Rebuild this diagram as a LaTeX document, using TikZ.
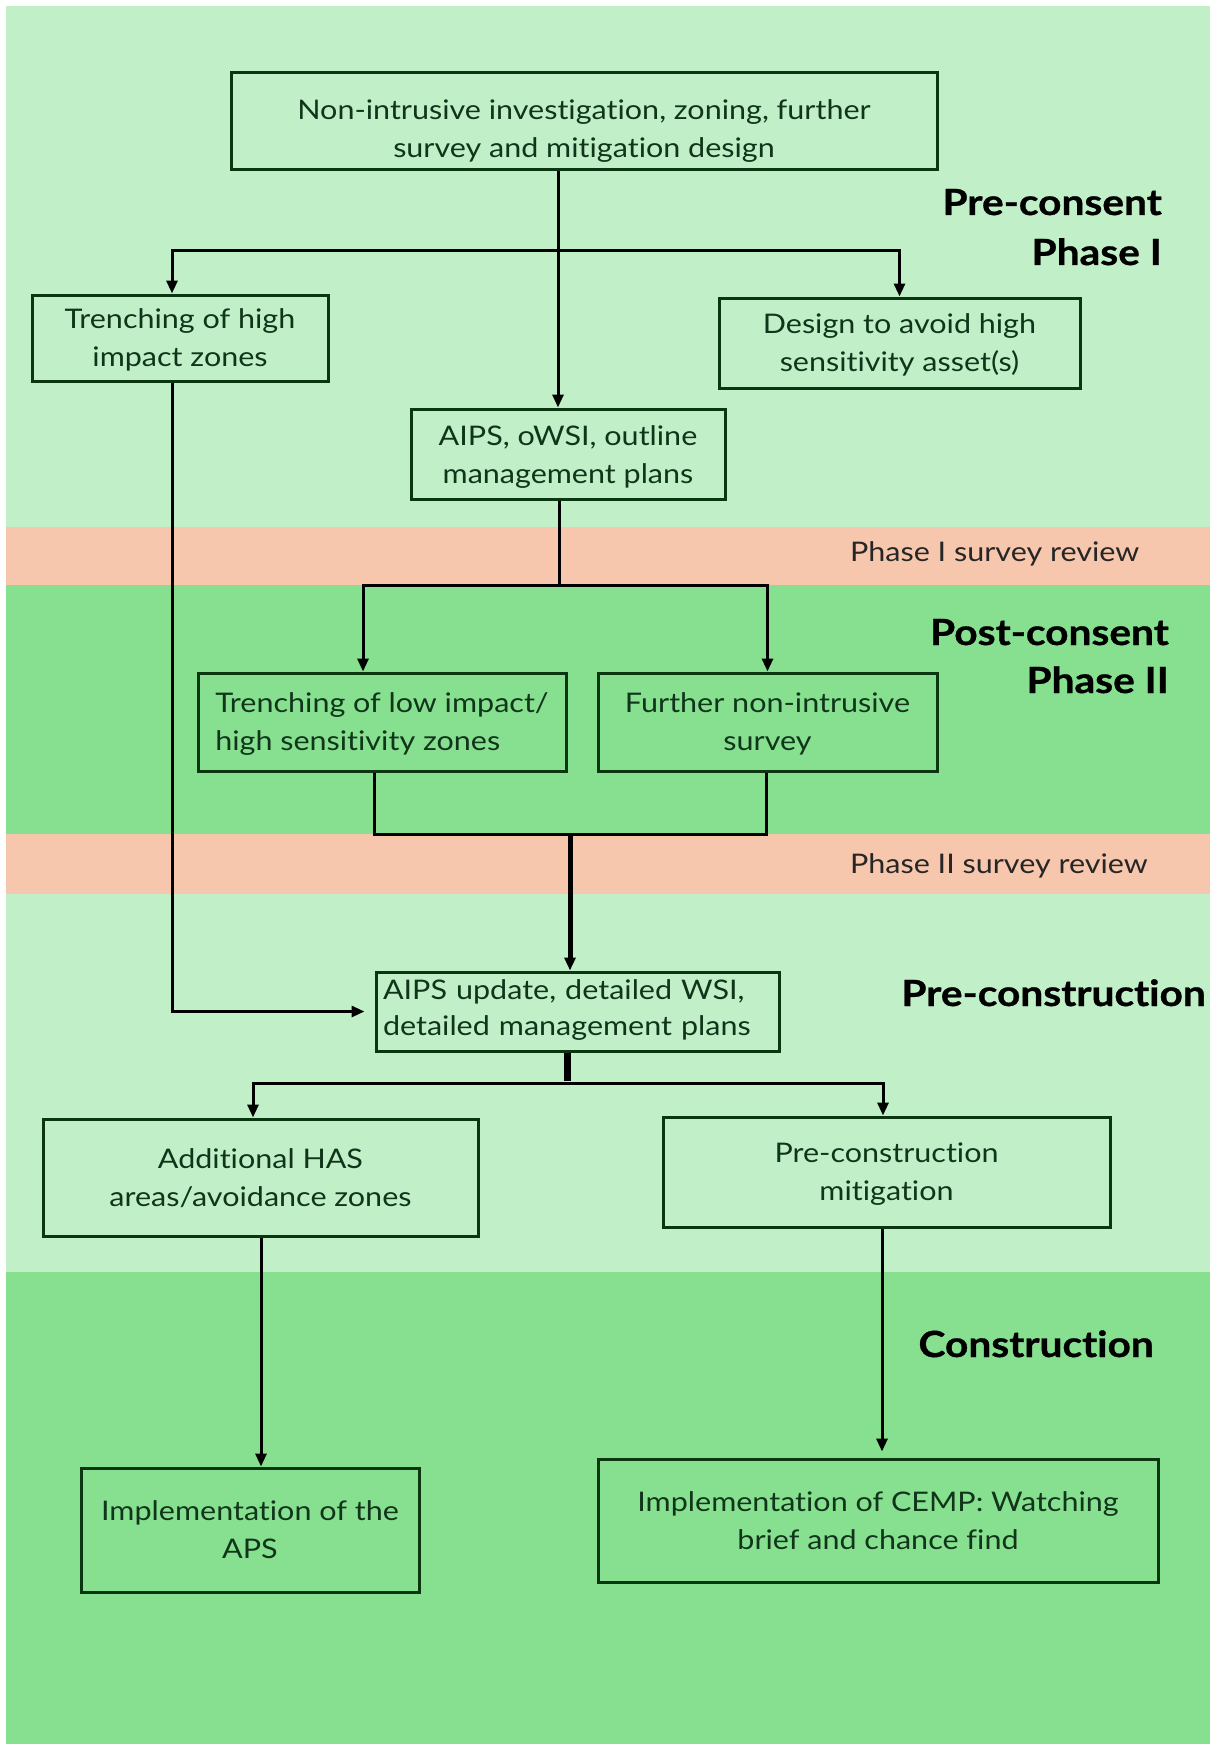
\documentclass[tikz,border=0pt]{standalone}
\usepackage{fontspec}
\setmainfont{Lato}[FakeStretch=1.13, Ligatures={NoCommon}]
\newfontfamily\headfont{Lato}[FakeStretch=1.13, FakeBold=0.8, Ligatures={NoCommon}]
\usetikzlibrary{arrows.meta}
\definecolor{lightg}{HTML}{C1F0C8}
\definecolor{medg}{HTML}{86E090}
\definecolor{salm}{HTML}{F6C6AD}
\definecolor{boxc}{HTML}{0C3512}
\definecolor{txtc}{HTML}{10351A}
\newcommand{\topr}[1]{\rule{0pt}{#1}}
\newcommand{\botr}[1]{\rule[-#1]{0pt}{1pt}}
\begin{document}
\begin{tikzpicture}[x=1pt,y=-1pt,
  box/.style={draw=boxc, line width=3pt, text=txtc, font=\fontsize{27pt}{38pt}\selectfont, align=center, inner sep=0pt},
  tightbox/.style={box, font=\fontsize{27pt}{36pt}\selectfont},
  conn/.style={draw=black, line width=3pt},
  arr/.style={conn, -{Triangle[length=13pt,width=11pt]}},
  head/.style={font=\fontsize{36pt}{42pt}\selectfont\headfont\bfseries, text=black, inner sep=0pt, anchor=base east},
  rev/.style={font=\fontsize{27pt}{32pt}\selectfont, text=black!85, inner sep=0pt, anchor=base west}]
\useasboundingbox (0,0) rectangle (1210,1744);
% background bands
\fill[white] (0,0) rectangle (1210,1744);
\fill[lightg] (6,6) rectangle (1210,527);
\fill[salm] (6,527) rectangle (1210,585);
\fill[medg] (6,585) rectangle (1210,834);
\fill[salm] (6,834) rectangle (1210,894);
\fill[lightg] (6,894) rectangle (1210,1272);
\fill[medg] (6,1272) rectangle (1210,1744);

% boxes
\node[box, minimum width=706pt, minimum height=97pt] (top) at (584,121.5)
  {\topr{45pt}Non-intrusive investigation, zoning, further\\survey and mitigation design\botr{10pt}};
\node[box, minimum width=296pt, minimum height=86pt] (trhigh) at (180,338)
  {\topr{28pt}Trenching of high\\impact zones\botr{10pt}};
\node[box, minimum width=361pt, minimum height=90pt] (design) at (899.5,343)
  {\topr{28pt}Design to avoid high\\sensitivity asset(s)\botr{10pt}};
\node[box, minimum width=314pt, minimum height=90pt] (aips) at (568,454)
  {\topr{30pt}AIPS, oWSI, outline\\management plans\botr{9pt}};
\node[box, align=left, minimum width=368pt, minimum height=98pt] (trlow) at (382,722)
  {\topr{28pt}Trenching of low impact/\\high sensitivity zones\botr{10pt}};
\node[box, minimum width=339pt, minimum height=98pt] (further) at (767.5,722)
  {\topr{28pt}Further non-intrusive\\survey\botr{10pt}};
\node[tightbox, align=left, text width=389pt, inner xsep=7pt, minimum height=79pt] (aipsupd) at (577.5,1011.5)
  {\topr{27pt}AIPS update, detailed WSI,\\detailed management plans\botr{16pt}};
\node[box, minimum width=435pt, minimum height=117pt] (addhas) at (260.5,1177.5)
  {\topr{29pt}Additional HAS\\areas/avoidance zones\botr{10pt}};
\node[box, minimum width=447pt, minimum height=110pt] (premit) at (886.5,1172)
  {\topr{29pt}Pre-construction\\mitigation\botr{10pt}};
\node[box, minimum width=338pt, minimum height=124pt] (aps) at (250,1530)
  {\topr{28pt}Implementation of the\\APS\botr{10pt}};
\node[box, minimum width=560pt, minimum height=123pt] (cemp) at (878,1520.5)
  {\topr{30pt}Implementation of CEMP: Watching\\brief and chance find\botr{10pt}};

% phase headings
\node[head] (h1a) at (1162,215) {Pre-consent};
\node[head] (h1b) at (1162,265) {Phase I};
\node[head] (h2a) at (1169,645) {Post-consent};
\node[head] (h2b) at (1169,693) {Phase II};
\node[head] (h3) at (1206,1006) {Pre-construction};
\node[head] (h4) at (1154,1357) {Construction};
\node[rev] (r1) at (850,561) {Phase I survey review};
\node[rev] (r2) at (850,873) {Phase II survey review};

% connectors
\coordinate (jA) at (558,251);
\coordinate (xL) at (172,251);
\draw[arr] (top.south -| jA) -- (aips.north -| jA);
\draw[arr] (jA) -- (xL) -- (trhigh.north -| xL);
\draw[arr] (jA) -| (design.north);
\draw[arr, shorten >=10pt] (trhigh.south -| xL) |- (aipsupd.west);

\coordinate (jB) at (559,585);
\coordinate (xB1) at (363,585);
\draw[conn] (aips.south -| jB) -- (jB);
\draw[arr] (jB) -- (xB1) -- (trlow.north -| xB1);
\draw[arr] (jB) -| (further.north);

\coordinate (xM1) at (374,834);
\coordinate (xM2) at (766,834);
\coordinate (jC) at (570,834);
\draw[conn] (trlow.south -| xM1) -- (xM1) -- (xM2) -- (further.south -| xM2);
\draw[arr, line width=5pt] (jC) -- (aipsupd.north -| jC);

\coordinate (jD) at (567,1083);
\coordinate (xD1) at (253,1083);
\coordinate (xD2) at (883,1083);
\draw[draw=black, line width=7pt] (aipsupd.south -| jD) -- ([yshift=2pt]jD);
\draw[arr] (jD) -- (xD1) -- (addhas.north -| xD1);
\draw[arr] (jD) -- (xD2) -- (premit.north -| xD2);

\coordinate (xE) at (261,1350);
\coordinate (xF) at (882,1350);
\draw[arr] (addhas.south -| xE) -- (aps.north -| xE);
\draw[arr, shorten >=6pt] (premit.south -| xF) -- (cemp.north -| xF);
\end{tikzpicture}
\end{document}
